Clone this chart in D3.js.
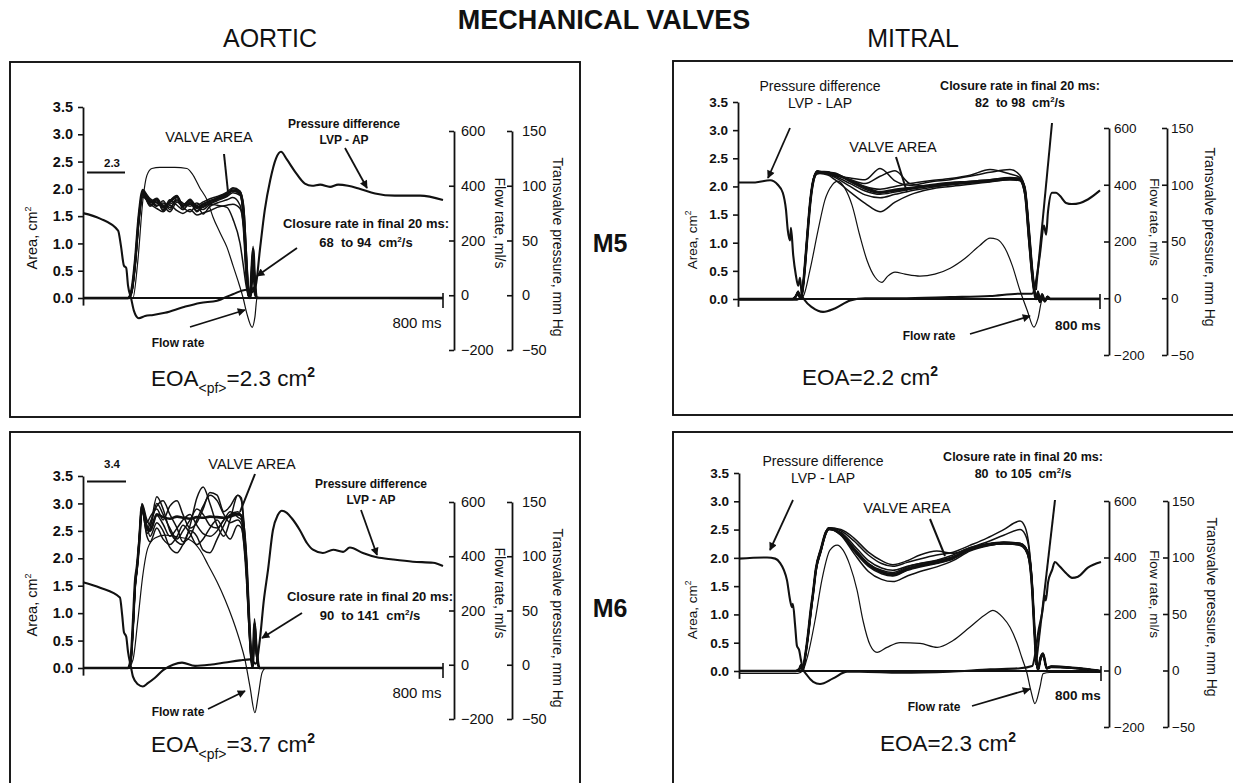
<!DOCTYPE html>
<html>
<head>
<meta charset="utf-8">
<script src="https://cdn.jsdelivr.net/npm/d3@7"></script>
<style>
  html, body { margin: 0; padding: 0; background: #fff; }
  svg { display: block; font-family: "Liberation Sans", Arial, Helvetica, sans-serif; }
</style>
</head>
<body>
<svg id="fig" width="1233" height="783"></svg>
<script>
// ---------- axis ticks ----------
const areaTicks = [0, 0.5, 1, 1.5, 2, 2.5, 3, 3.5];
const flowTicks = [-200, 0, 200, 400, 600];
const pressureTicks = [-50, 0, 50, 100, 150];
const timeEnd = 800;

// ---------- Aortic, M5 ----------
const aoM5Time = [0, 100, 108, 116, 124, 133, 149, 164, 178, 193, 209, 222, 238, 253, 267, 282, 298, 320, 333, 349, 357, 362, 367, 371, 375, 378, 382, 386, 395, 800];
const aoM5Area = [
  [0, 0, 0.15, 0.70, 1.50, 1.98, 1.75, 1.82, 1.66, 1.76, 1.86, 1.68, 1.80, 1.65, 1.72, 1.78, 1.82, 1.90, 1.97, 1.92, 1.55, 0.80, 0.15, 0.00, 0.55, 0.90, 0.30, 0.00, 0, 0],
  [0, 0, 0.10, 0.62, 1.42, 1.93, 1.80, 1.70, 1.74, 1.66, 1.80, 1.74, 1.68, 1.74, 1.66, 1.76, 1.84, 1.92, 1.96, 1.90, 1.35, 0.55, 0.08, 0.00, 0.40, 0.80, 0.20, 0.00, 0, 0],
  [0, 0, 0.12, 0.66, 1.46, 1.90, 1.70, 1.78, 1.62, 1.80, 1.70, 1.62, 1.76, 1.60, 1.70, 1.74, 1.80, 1.88, 2.00, 1.95, 1.70, 1.00, 0.25, 0.02, 0.30, 0.70, 0.35, 0.00, 0, 0],
  [0, 0, 0.08, 0.58, 1.38, 1.88, 1.78, 1.68, 1.78, 1.62, 1.84, 1.70, 1.72, 1.68, 1.62, 1.72, 1.78, 1.86, 1.93, 1.88, 1.45, 0.60, 0.05, 0.00, 0.50, 0.95, 0.25, 0.00, 0, 0],
  [0, 0, 0.10, 0.60, 1.40, 1.85, 1.72, 1.64, 1.58, 1.70, 1.60, 1.55, 1.62, 1.52, 1.56, 1.60, 1.66, 1.70, 1.72, 1.64, 1.30, 0.70, 0.12, 0.00, 0.20, 0.40, 0.10, 0.00, 0, 0],
  [0, 0, 0.14, 0.68, 1.48, 1.95, 1.74, 1.80, 1.60, 1.78, 1.88, 1.62, 1.74, 1.58, 1.68, 1.72, 1.70, 1.66, 1.45, 1.00, 0.55, 0.25, 0.05, 0.00, 0.10, 0.20, 0.05, 0.00, 0, 0],
  [0, 0, 0.11, 0.64, 1.44, 1.92, 1.68, 1.76, 1.70, 1.58, 1.76, 1.66, 1.58, 1.70, 1.54, 1.68, 1.74, 1.80, 1.84, 1.70, 1.20, 0.45, 0.06, 0.00, 0.35, 0.60, 0.15, 0.00, 0, 0],
  [0, 0, 0.13, 0.72, 1.52, 1.96, 1.82, 1.74, 1.70, 1.72, 1.78, 1.72, 1.78, 1.70, 1.76, 1.82, 1.86, 1.94, 2.02, 1.96, 1.60, 0.90, 0.20, 0.00, 0.60, 0.85, 0.30, 0.00, 0, 0]
];
const aoM5FlowTime = [0, 100, 111, 122, 133, 142, 153, 171, 204, 231, 242, 260, 276, 289, 304, 320, 333, 344, 356, 364, 376, 382, 387, 398, 800];
const aoM5Flow = [-12, -12, -10, 128, 347, 438, 463, 467, 467, 463, 445, 391, 347, 285, 230, 175, 110, 55, -11, -66, -117, -80, -7, -10, -12];
const aoM5PressTime = [0, 38, 78, 84, 91, 96, 100, 107, 113, 124, 138, 156, 182, 222, 260, 298, 333, 364, 376, 384, 393, 404, 416, 429, 440, 453, 471, 493, 509, 527, 549, 567, 589, 616, 649, 693, 749, 800];
const aoM5Press = [75, 70, 59, 46, 27, 25, 9, -3, -14, -21, -19, -18, -16, -11, -7, -5, 1, 5, 3, 9, 41, 78, 105, 125, 131, 124, 113, 102, 100, 101, 99, 101, 100, 97, 93, 91, 91, 87];
const aoM5EOA = 2.3;
const aoM5Closure = [68, 94];

// ---------- Aortic, M6 ----------
const aoM6Time = [0, 100, 106, 111, 116, 120, 125, 131, 142, 149, 164, 178, 193, 209, 222, 238, 253, 267, 282, 298, 313, 327, 344, 352, 358, 364, 369, 373, 377, 381, 386, 392, 800];
const aoM6Area = [
  [0, 0, 0.15, 0.80, 1.60, 1.85, 2.30, 2.95, 2.55, 2.50, 2.80, 2.75, 2.72, 2.76, 2.74, 2.72, 2.75, 2.74, 2.76, 2.75, 2.74, 2.76, 2.80, 2.78, 2.50, 1.80, 0.90, 0.30, 0.02, 0.80, 0.30, 0, 0],
  [0, 0, 0.12, 0.70, 1.50, 1.80, 2.40, 3.00, 2.70, 2.60, 3.00, 2.80, 2.55, 2.35, 2.50, 2.70, 2.90, 2.80, 2.60, 2.55, 2.70, 2.85, 2.75, 2.70, 2.35, 1.60, 0.75, 0.22, 0.02, 0.70, 0.25, 0, 0],
  [0, 0, 0.14, 0.75, 1.55, 1.82, 2.35, 2.90, 2.45, 2.55, 3.12, 2.90, 2.50, 2.30, 2.25, 2.60, 3.10, 3.30, 3.00, 2.60, 2.40, 2.70, 3.15, 3.10, 2.60, 1.90, 1.00, 0.35, 0.03, 0.60, 0.20, 0, 0],
  [0, 0, 0.10, 0.68, 1.48, 1.78, 2.25, 2.85, 2.60, 2.40, 2.65, 2.50, 2.20, 2.10, 2.25, 2.50, 2.40, 2.15, 2.10, 2.35, 2.60, 2.80, 2.85, 2.75, 2.40, 1.70, 0.85, 0.28, 0.02, 0.85, 0.35, 0, 0],
  [0, 0, 0.13, 0.72, 1.52, 1.84, 2.32, 2.92, 2.50, 2.65, 2.95, 3.05, 2.80, 2.55, 2.30, 2.40, 2.70, 2.95, 3.15, 3.05, 2.80, 2.65, 2.70, 2.62, 2.20, 1.50, 0.70, 0.20, 0.01, 0.65, 0.25, 0, 0],
  [0, 0, 0.11, 0.66, 1.46, 1.76, 2.28, 2.88, 2.40, 2.30, 2.55, 2.35, 2.25, 2.40, 2.60, 2.45, 2.25, 2.35, 2.55, 2.70, 2.50, 2.35, 2.60, 2.55, 2.25, 1.65, 0.80, 0.25, 0.02, 0.55, 0.20, 0, 0],
  [0, 0, 0.15, 0.78, 1.58, 1.86, 2.38, 2.98, 2.65, 2.75, 2.90, 2.70, 2.95, 3.05, 2.80, 2.55, 2.65, 2.90, 3.20, 3.15, 2.85, 2.95, 3.15, 3.05, 2.55, 1.85, 0.95, 0.32, 0.03, 0.75, 0.28, 0, 0],
  [0, 0, 0.12, 0.70, 1.50, 1.80, 2.30, 2.92, 2.58, 2.52, 2.78, 2.62, 2.40, 2.55, 2.70, 2.80, 2.60, 2.45, 2.40, 2.50, 2.70, 2.78, 2.82, 2.76, 2.45, 1.75, 0.88, 0.30, 0.02, 0.90, 0.32, 0, 0]
];
const aoM6FlowTime = [0, 100, 111, 122, 133, 144, 160, 182, 211, 238, 260, 278, 298, 316, 333, 349, 360, 371, 382, 389, 398, 407, 800];
const aoM6Flow = [-12, -12, 18, 166, 331, 430, 467, 478, 471, 460, 423, 368, 305, 239, 166, 85, 18, -81, -177, -118, -29, -11, -12];
const aoM6PressTime = [0, 38, 82, 87, 91, 96, 100, 107, 111, 122, 133, 144, 160, 178, 200, 220, 249, 282, 316, 349, 371, 384, 393, 402, 411, 422, 433, 442, 453, 464, 482, 498, 511, 533, 556, 578, 593, 622, 653, 689, 733, 778, 800];
const aoM6Press = [76, 71, 62, 46, 30, 26, 12, -3, -11, -18, -20, -17, -12, -5, 0, 2, -1, 0, 2, 4, 5, 1, 23, 60, 87, 124, 138, 142, 140, 135, 124, 112, 106, 103, 106, 104, 108, 103, 99, 97, 95, 94, 91];
const aoM6EOA = 3.7;
const aoM6Closure = [90, 141];

// ---------- Mitral, M5 ----------
const miM5Time = [0, 120, 128, 133, 137, 141, 144, 150, 155, 160, 164, 170, 175, 181, 199, 214, 248, 281, 314, 347, 380, 424, 469, 513, 557, 601, 623, 634, 643, 652, 659, 663, 667, 672, 678, 684, 690, 712, 800];
const miM5Area = [
  [0, 0, 0.05, 0.12, 0.02, 0.08, 0.25, 0.80, 1.30, 1.75, 2.00, 2.20, 2.26, 2.25, 2.24, 2.22, 2.10, 1.98, 1.90, 1.94, 1.97, 2.02, 2.06, 2.08, 2.11, 2.14, 2.12, 1.90, 1.10, 0.30, 0.00, 0.12, -0.05, 0.08, -0.04, 0.04, 0, 0, 0],
  [0, 0, 0.04, 0.10, 0.03, 0.06, 0.20, 0.70, 1.25, 1.70, 1.95, 2.18, 2.24, 2.26, 2.22, 2.18, 2.05, 1.92, 1.86, 1.90, 1.95, 2.00, 2.04, 2.07, 2.10, 2.13, 2.14, 2.00, 1.30, 0.45, 0.02, 0.10, -0.04, 0.06, -0.03, 0.03, 0, 0, 0],
  [0, 0, 0.06, 0.14, 0.03, 0.09, 0.28, 0.85, 1.35, 1.78, 2.02, 2.20, 2.28, 2.27, 2.26, 2.20, 2.15, 2.12, 2.32, 2.10, 2.02, 2.08, 2.12, 2.18, 2.25, 2.30, 2.20, 1.95, 1.20, 0.35, 0.01, 0.14, -0.06, 0.09, -0.05, 0.05, 0, 0, 0],
  [0, 0, 0.05, 0.11, 0.02, 0.07, 0.22, 0.75, 1.28, 1.72, 1.98, 2.18, 2.22, 2.23, 2.20, 2.12, 1.90, 1.70, 1.55, 1.72, 1.85, 1.95, 2.00, 2.04, 2.08, 2.12, 2.10, 1.85, 1.00, 0.25, 0.00, 0.10, -0.04, 0.06, -0.03, 0.03, 0, 0, 0],
  [0, 0, 0.05, 0.13, 0.02, 0.08, 0.26, 0.82, 1.32, 1.76, 2.00, 2.21, 2.25, 2.24, 2.25, 2.24, 2.08, 1.95, 1.88, 1.92, 1.96, 2.01, 2.05, 2.09, 2.12, 2.16, 2.13, 1.92, 1.15, 0.32, 0.00, 0.11, -0.05, 0.07, -0.04, 0.04, 0, 0, 0],
  [0, 0, 0.04, 0.12, 0.02, 0.07, 0.24, 0.78, 1.30, 1.74, 2.00, 2.20, 2.24, 2.24, 2.23, 2.20, 2.12, 2.05, 2.18, 2.28, 2.05, 2.00, 2.03, 2.06, 2.10, 2.15, 2.15, 1.98, 1.25, 0.40, 0.02, 0.12, -0.04, 0.08, -0.03, 0.04, 0, 0, 0],
  [0, 0, 0.05, 0.12, 0.03, 0.08, 0.25, 0.80, 1.32, 1.76, 2.02, 2.21, 2.25, 2.25, 2.21, 2.16, 2.00, 1.85, 1.80, 1.86, 1.92, 1.98, 2.03, 2.06, 2.09, 2.12, 2.11, 1.88, 1.05, 0.28, 0.00, 0.10, -0.05, 0.07, -0.03, 0.03, 0, 0, 0],
  [0, 0, 0.05, 0.12, 0.02, 0.08, 0.26, 0.84, 1.36, 1.78, 2.03, 2.22, 2.27, 2.26, 2.25, 2.22, 2.12, 2.00, 1.95, 2.00, 2.05, 2.10, 2.14, 2.20, 2.30, 2.22, 2.16, 1.94, 1.18, 0.34, 0.01, 0.11, -0.05, 0.08, -0.04, 0.04, 0, 0, 0]
];
const miM5FlowTime = [0, 126, 144, 159, 177, 192, 208, 221, 236, 252, 269, 285, 303, 318, 331, 347, 369, 402, 435, 469, 502, 535, 557, 572, 590, 606, 623, 639, 654, 663, 672, 689, 800];
const miM5Flow = [-7, -7, 7, 99, 240, 346, 399, 413, 388, 328, 222, 134, 74, 56, 78, 92, 85, 78, 85, 106, 141, 187, 212, 208, 176, 116, 28, -42, -102, -71, -7, 0, 0];
const miM5PressTime = [0, 38, 71, 88, 99, 106, 110, 115, 117, 122, 128, 133, 137, 141, 148, 164, 188, 214, 248, 281, 358, 468, 557, 623, 650, 659, 667, 676, 681, 685, 694, 703, 712, 725, 738, 756, 773, 800];
const miM5Press = [102, 102, 104, 100, 93, 78, 60, 51, 62, 38, 20, 11, 18, 3, -2, -8, -12, -9, -2, 0, 0, 1, 2, 4, 4, 16, 38, 64, 56, 76, 93, 93, 90, 84, 83, 84, 87, 95];
const miM5EOA = 2.2;
const miM5Closure = [82, 98];

// ---------- Mitral, M6 ----------
const miM6Time = [0, 125, 133, 137, 141, 146, 152, 159, 164, 170, 181, 192, 199, 225, 254, 286, 315, 340, 372, 400, 437, 473, 510, 548, 585, 621, 632, 641, 648, 652, 656, 661, 666, 672, 680, 690, 800];
const miM6Area = [
  [0, 0, 0.03, 0.10, 0.02, 0.25, 0.60, 1.10, 1.40, 1.80, 2.15, 2.45, 2.52, 2.42, 2.15, 1.88, 1.75, 1.70, 1.80, 1.86, 1.92, 2.00, 2.15, 2.23, 2.26, 2.24, 2.18, 2.00, 1.45, 0.85, 0.30, 0.02, 0.22, 0.30, 0.05, 0.08, 0],
  [0, 0, 0.02, 0.08, 0.03, 0.22, 0.55, 1.02, 1.35, 1.75, 2.10, 2.42, 2.50, 2.45, 2.22, 1.95, 1.82, 1.78, 1.85, 1.90, 1.95, 2.02, 2.16, 2.24, 2.27, 2.26, 2.20, 2.05, 1.55, 0.95, 0.35, 0.03, 0.18, 0.28, 0.04, 0.06, 0],
  [0, 0, 0.03, 0.11, 0.02, 0.26, 0.62, 1.12, 1.42, 1.82, 2.16, 2.46, 2.53, 2.48, 2.30, 2.05, 1.90, 1.85, 1.92, 1.98, 2.05, 2.10, 2.22, 2.35, 2.50, 2.65, 2.55, 2.20, 1.55, 0.90, 0.32, 0.02, 0.24, 0.32, 0.06, 0.08, 0],
  [0, 0, 0.02, 0.09, 0.02, 0.23, 0.58, 1.05, 1.38, 1.78, 2.12, 2.44, 2.51, 2.40, 2.08, 1.76, 1.62, 1.58, 1.68, 1.76, 1.84, 1.95, 2.12, 2.21, 2.25, 2.22, 2.15, 1.95, 1.40, 0.80, 0.28, 0.02, 0.20, 0.28, 0.05, 0.07, 0],
  [0, 0, 0.03, 0.10, 0.02, 0.24, 0.60, 1.08, 1.40, 1.80, 2.14, 2.45, 2.52, 2.44, 2.18, 1.90, 1.78, 1.74, 1.84, 1.90, 1.96, 2.05, 2.18, 2.25, 2.28, 2.26, 2.20, 2.02, 1.50, 0.88, 0.30, 0.02, 0.22, 0.30, 0.05, 0.08, 0],
  [0, 0, 0.03, 0.10, 0.02, 0.25, 0.61, 1.10, 1.41, 1.81, 2.15, 2.46, 2.53, 2.50, 2.35, 2.10, 1.95, 1.88, 1.95, 2.05, 2.12, 2.08, 2.18, 2.28, 2.40, 2.50, 2.42, 2.15, 1.50, 0.88, 0.30, 0.02, 0.23, 0.30, 0.05, 0.08, 0],
  [0, 0, 0.02, 0.09, 0.03, 0.23, 0.57, 1.04, 1.36, 1.76, 2.12, 2.43, 2.50, 2.41, 2.12, 1.85, 1.72, 1.68, 1.78, 1.84, 1.90, 1.98, 2.14, 2.22, 2.25, 2.23, 2.16, 1.98, 1.42, 0.82, 0.28, 0.02, 0.20, 0.28, 0.04, 0.07, 0],
  [0, 0, 0.03, 0.10, 0.02, 0.25, 0.60, 1.09, 1.40, 1.80, 2.15, 2.45, 2.52, 2.43, 2.16, 1.90, 1.76, 1.72, 1.82, 1.88, 1.94, 2.02, 2.16, 2.24, 2.27, 2.25, 2.19, 2.01, 1.48, 0.86, 0.30, 0.02, 0.22, 0.30, 0.05, 0.08, 0]
];
const miM6FlowTime = [0, 130, 141, 152, 168, 183, 201, 217, 230, 245, 261, 274, 290, 305, 327, 356, 400, 438, 473, 510, 548, 561, 583, 599, 614, 625, 636, 645, 654, 665, 672, 687, 800];
const miM6Flow = [-10, -10, 0, 53, 177, 319, 426, 444, 426, 373, 284, 177, 89, 64, 82, 99, 96, 82, 106, 153, 202, 213, 188, 153, 99, 46, -7, -71, -117, -60, -11, -7, -7];
const miM6PressTime = [0, 62, 80, 91, 99, 106, 113, 117, 119, 124, 128, 133, 137, 141, 150, 164, 179, 208, 239, 267, 356, 466, 555, 621, 648, 654, 661, 670, 676, 678, 683, 692, 698, 709, 723, 736, 749, 771, 800];
const miM6Press = [99, 100, 99, 95, 89, 80, 62, 56, 59, 40, 22, 18, 9, 2, -4, -10, -12, -7, -1, -1, -2, -1, 1, 2, 4, 13, 33, 51, 66, 62, 78, 89, 96, 92, 86, 82, 83, 91, 96];
const miM6EOA = 2.3;
const miM6Closure = [80, 105];

// EOA reference bars drawn in the aortic panels
const aoM5Bar = 2.3;
const aoM6Bar = 3.4;

// ---------- page layout ----------
const INK = "#111";
const svg = d3.select("#fig");

const defs = svg.append("defs");
defs.append("marker")
  .attr("id", "head")
  .attr("viewBox", "0 0 10 10")
  .attr("refX", 9).attr("refY", 5)
  .attr("markerWidth", 10).attr("markerHeight", 8)
  .attr("markerUnits", "userSpaceOnUse")
  .attr("orient", "auto")
  .append("path").attr("d", "M0,0L10,5L0,10z").attr("fill", INK);

// Text with optional superscript / subscript runs
function rich(g, parts, x, y, size, opt = {}) {
  const t = g.append("text")
    .attr("x", x).attr("y", y)
    .attr("text-anchor", opt.anchor || "middle")
    .attr("font-size", size)
    .attr("font-weight", opt.bold ? "bold" : "normal")
    .attr("fill", INK)
    .style("white-space", "pre");
  if (opt.transform) t.attr("transform", opt.transform);
  let off = 0;
  parts.forEach(p => {
    const target = p.sup ? -0.42 * size : p.sub ? 0.32 * size : 0;
    const fs = (p.sup || p.sub) ? size * 0.62 : size;
    const sp = t.append("tspan").attr("dy", target - off).attr("font-size", fs).text(p.s);
    if (p.bold) sp.attr("font-weight", "bold");
    off = target;
  });
  return t;
}
function label(g, s, x, y, size, opt = {}) {
  return rich(g, [{ s }], x, y, size, opt);
}
function pointer(g, x1, y1, x2, y2, head, w) {
  const l = g.append("line")
    .attr("x1", x1).attr("y1", y1).attr("x2", x2).attr("y2", y2)
    .attr("stroke", INK).attr("stroke-width", w || 1.6);
  if (head) l.attr("marker-end", "url(#head)");
}

// Title block
label(svg, "MECHANICAL VALVES", 604, 29, 27, { bold: true });
label(svg, "AORTIC", 270, 47, 25);
label(svg, "MITRAL", 913, 47, 25);
label(svg, "M5", 610, 252, 25, { bold: true });
label(svg, "M6", 610, 617, 25, { bold: true });

const panels = [
  {
    kind: "aortic", time: aoM5Time, area: aoM5Area, flowT: aoM5FlowTime, flow: aoM5Flow,
    pressT: aoM5PressTime, press: aoM5Press, eoa: aoM5EOA, closure: aoM5Closure, bar: aoM5Bar,
    box: [10, 62, 570, 355], tx: [83, 443], ay: [298, 107], fy: [350, 131],
    flowX: 454, pressX: 512, areaLab: [37, 238], flowLab: [495, 223], pressLab: [553, 247],
    valve: [209, 142, 224, 154, 228, 192], pd: [344, 128, 345, 148, 367, 188],
    cr: [366, 228, 297, 248, 257, 276], fr: [178, 347, 190, 327, 245, 310],
    ms: [417, 328], eoaPos: [233, 386], mark: [87, 125, 112, 167]
  },
  {
    kind: "aortic", time: aoM6Time, area: aoM6Area, flowT: aoM6FlowTime, flow: aoM6Flow,
    pressT: aoM6PressTime, press: aoM6Press, eoa: aoM6EOA, closure: aoM6Closure, bar: aoM6Bar,
    box: [10, 432, 570, 360], tx: [83, 443], ay: [668, 476], fy: [719, 502],
    flowX: 454, pressX: 512, areaLab: [37, 605], flowLab: [495, 593], pressLab: [553, 618],
    valve: [252, 469, 255, 474, 240, 512], pd: [371, 488, 361, 510, 377, 555],
    cr: [370, 601, 302, 613, 262, 638], fr: [178, 716, 208, 709, 245, 691],
    ms: [417, 698], eoaPos: [233, 752], mark: [87, 126, 112, 468]
  },
  {
    kind: "mitral", time: miM5Time, area: miM5Area, flowT: miM5FlowTime, flow: miM5Flow,
    pressT: miM5PressTime, press: miM5Press, eoa: miM5EOA, closure: miM5Closure,
    box: [673, 61, 600, 354], tx: [738, 1100], ay: [299, 102], fy: [355, 128],
    flowX: 1109, pressX: 1167, areaLab: [697, 240], flowLab: [1150, 222], pressLab: [1205, 237],
    valve: [893, 152, 896, 157, 907, 192], pd: [820, 91, 790, 128, 768, 178],
    cr: [1020, 90, 1052, 123, 1036, 290], fr: [929, 340, 970, 334, 1030, 316],
    ms: [1078, 330], eoaPos: [870, 385]
  },
  {
    kind: "mitral", time: miM6Time, area: miM6Area, flowT: miM6FlowTime, flow: miM6Flow,
    pressT: miM6PressTime, press: miM6Press, eoa: miM6EOA, closure: miM6Closure,
    box: [673, 432, 600, 360], tx: [739, 1101], ay: [671, 473], fy: [727, 501],
    flowX: 1109, pressX: 1168, areaLab: [697, 610], flowLab: [1150, 594], pressLab: [1207, 607],
    valve: [907, 513, 930, 519, 945, 556], pd: [823, 466, 793, 500, 770, 550],
    cr: [1023, 461, 1055, 500, 1036, 665], fr: [934, 711, 972, 706, 1030, 689],
    ms: [1078, 700], eoaPos: [948, 751]
  }
];

function styleAxis(ax, size, bold) {
  ax.attr("font-family", null).attr("font-size", size);
  ax.select(".domain").attr("stroke", INK).attr("stroke-width", 1.8);
  ax.selectAll(".tick line").attr("stroke", INK).attr("stroke-width", 1.6);
  ax.selectAll(".tick text").attr("fill", INK).attr("font-weight", bold ? "bold" : "normal");
}

panels.forEach(P => {
  const g = svg.append("g");
  const aortic = P.kind === "aortic";

  const x = d3.scaleLinear().domain([0, timeEnd]).range(P.tx);
  const yA = d3.scaleLinear().domain([0, 3.5]).range(P.ay);
  const yF = d3.scaleLinear().domain([-200, 600]).range(P.fy);
  const yP = d3.scaleLinear().domain([-50, 150]).range(P.fy);

  // frame
  g.append("rect")
    .attr("x", P.box[0]).attr("y", P.box[1]).attr("width", P.box[2]).attr("height", P.box[3])
    .attr("fill", "none").attr("stroke", INK).attr("stroke-width", 1.9);

  // valve-area axis (left)
  const yAxisScale = yA.copy().domain([-0.13, 3.5]).range([yA(-0.13), yA(3.5)]);
  const axA = g.append("g").attr("transform", `translate(${P.tx[0]},0)`)
    .call(d3.axisLeft(yAxisScale).tickValues(areaTicks).tickFormat(d3.format(".1f"))
      .tickSizeInner(5).tickSizeOuter(0).tickPadding(5));
  styleAxis(axA, aortic ? 14.5 : 13.5, true);

  // flow axis and pressure axis (right)
  const axF = g.append("g").attr("transform", `translate(${P.flowX},0)`)
    .call(d3.axisRight(yF).tickValues(flowTicks).tickFormat(d3.format("d"))
      .tickSizeInner(-5).tickSizeOuter(0).tickPadding(aortic ? 7 : 5));
  styleAxis(axF, aortic ? 14.5 : 13.5, false);
  const axP = g.append("g").attr("transform", `translate(${P.pressX},0)`)
    .call(d3.axisRight(yP).tickValues(pressureTicks).tickFormat(d3.format("d"))
      .tickSizeInner(-5).tickSizeOuter(0).tickPadding(aortic ? 10 : 4));
  styleAxis(axP, aortic ? 14.5 : 13.5, false);

  // time axis: baseline at zero area and an end tick at 800 ms
  g.append("line")
    .attr("x1", x(0)).attr("x2", x(timeEnd)).attr("y1", yA(0)).attr("y2", yA(0))
    .attr("stroke", INK).attr("stroke-width", 2.2);
  g.append("line")
    .attr("x1", x(timeEnd)).attr("x2", x(timeEnd)).attr("y1", yA(0) - 5).attr("y2", yA(0) + 10)
    .attr("stroke", INK).attr("stroke-width", 1.6);
  label(g, `${timeEnd} ms`, P.ms[0], P.ms[1], aortic ? 15 : 13.5, { bold: !aortic });

  // axis titles
  rich(g, [{ s: "Area, cm" }, { s: "2", sup: true }], 0, 0, aortic ? 14.5 : 13.5,
    { transform: `translate(${P.areaLab[0]},${P.areaLab[1]}) rotate(-90)` });
  label(g, "Flow rate, ml/s", 0, 0, aortic ? 14 : 13.5,
    { transform: `translate(${P.flowLab[0]},${P.flowLab[1]}) rotate(90)` });
  label(g, "Transvalve pressure, mm Hg", 0, 0, 14,
    { transform: `translate(${P.pressLab[0]},${P.pressLab[1]}) rotate(90)` });

  const curve = d3.curveMonotoneX;

  // flow rate
  g.append("path")
    .attr("d", d3.line().curve(curve).x((d, i) => x(P.flowT[i])).y(d => yF(d))(P.flow))
    .attr("fill", "none").attr("stroke", INK).attr("stroke-width", 1.2);

  // transvalvular pressure difference
  g.append("path")
    .attr("d", d3.line().curve(curve).x((d, i) => x(P.pressT[i])).y(d => yP(d))(P.press))
    .attr("fill", "none").attr("stroke", INK).attr("stroke-width", 2.1)
    .attr("stroke-linejoin", "round");

  // valve area, beat by beat
  P.area.forEach((trace, k) => {
    g.append("path")
      .attr("d", d3.line().curve(curve).x((d, i) => x(P.time[i])).y(d => yA(d))(trace))
      .attr("fill", "none").attr("stroke", INK)
      .attr("stroke-width", k === 0 ? 2.6 : 1.5)
      .attr("stroke-linejoin", "round");
  });

  // EOA reference bar (aortic panels)
  if (aortic) {
    g.append("line")
      .attr("x1", P.mark[0]).attr("x2", P.mark[1]).attr("y1", yA(P.bar)).attr("y2", yA(P.bar))
      .attr("stroke", INK).attr("stroke-width", 2);
    label(g, P.bar.toFixed(1), P.mark[2], P.mark[3], 11.5, { bold: true });
  }

  // annotations
  label(g, "VALVE AREA", P.valve[0], P.valve[1], 14.5);
  pointer(g, P.valve[2], P.valve[3], P.valve[4], P.valve[5], false, 2);

  const pdSize = aortic ? 12 : 14;
  label(g, "Pressure difference", P.pd[0], P.pd[1], pdSize, { bold: aortic });
  label(g, aortic ? "LVP - AP" : "LVP - LAP", P.pd[0], P.pd[1] + (aortic ? 16 : 17), pdSize, { bold: aortic });
  pointer(g, P.pd[2], P.pd[3], P.pd[4], P.pd[5], true, 1.8);

  const crSize = aortic ? 13 : 12.5;
  label(g, "Closure rate in final 20 ms:", P.cr[0], P.cr[1], crSize, { bold: true });
  rich(g, [{ s: `${P.closure[0]}  to ${P.closure[1]}  cm` }, { s: "2", sup: true }, { s: "/s" }],
    P.cr[0], P.cr[1] + (aortic ? 19 : 17), crSize, { bold: true });
  pointer(g, P.cr[2], P.cr[3], P.cr[4], P.cr[5], aortic, aortic ? 1.8 : 2);

  label(g, "Flow rate", P.fr[0], P.fr[1], 12, { bold: true });
  pointer(g, P.fr[2], P.fr[3], P.fr[4], P.fr[5], true, 1.8);

  // effective orifice area
  const eoaParts = aortic
    ? [{ s: "EOA" }, { s: "<pf>", sub: true }, { s: `=${P.eoa.toFixed(1)} cm` }, { s: "2", sup: true, bold: true }]
    : [{ s: `EOA=${P.eoa.toFixed(1)} cm` }, { s: "2", sup: true, bold: true }];
  rich(g, eoaParts, P.eoaPos[0], P.eoaPos[1], 22.5);
});
</script>
</body>
</html>
